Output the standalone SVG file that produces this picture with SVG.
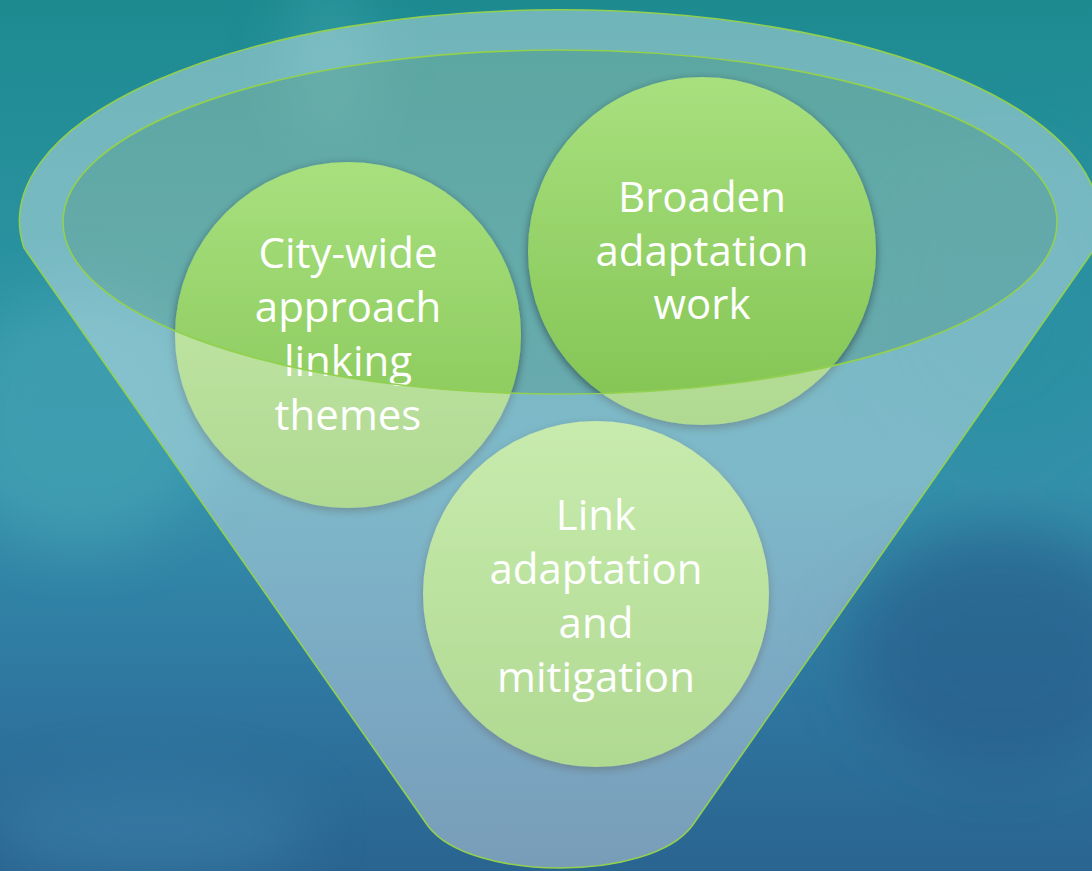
<svg xmlns="http://www.w3.org/2000/svg" width="1092" height="871" viewBox="0 0 1092 871">
  <defs>
    <linearGradient id="bg" x1="0" y1="0" x2="0" y2="1">
      <stop offset="0" stop-color="#1d8a90"/>
      <stop offset="0.3" stop-color="#2a92a0"/>
      <stop offset="0.55" stop-color="#3490aa"/>
      <stop offset="0.8" stop-color="#2e76a0"/>
      <stop offset="1" stop-color="#2a6490"/>
    </linearGradient>
    <linearGradient id="circ" x1="0" y1="0" x2="0" y2="1">
      <stop offset="0" stop-color="#a8e07e"/>
      <stop offset="1" stop-color="#82c352"/>
    </linearGradient>
    <filter id="blur" x="-50%" y="-50%" width="200%" height="200%">
      <feGaussianBlur stdDeviation="30"/>
    </filter>
    <filter id="shadow" x="-20%" y="-20%" width="140%" height="140%">
      <feDropShadow dx="0" dy="3" stdDeviation="4" flood-color="#000" flood-opacity="0.45"/>
    </filter>
    <style>
      .circle { fill: url(#circ); filter: url(#shadow); }
      .label { font-family: "Open Sans", "Noto Sans", sans-serif; font-size: 42px; fill: #ffffff; text-anchor: middle; }
      .edge { fill: none; stroke: #92d050; stroke-width: 1.6; }
    </style>
  </defs>

  <!-- background -->
  <rect x="0" y="0" width="1092" height="871" fill="url(#bg)"/>
  <g filter="url(#blur)" opacity="0.6">
    <ellipse cx="80" cy="420" rx="130" ry="130" fill="#46a6b6"/>
    <ellipse cx="330" cy="60" rx="40" ry="90" fill="#3aa0a8"/>
    <ellipse cx="1000" cy="650" rx="150" ry="120" fill="#255a86"/>
    <ellipse cx="150" cy="830" rx="160" ry="50" fill="#3a80aa"/>
    <ellipse cx="1000" cy="300" rx="120" ry="150" fill="#2b8fa2"/>
  </g>

  <!-- inner ellipse tint (below circles) -->
  <ellipse id="funnel-mouth" cx="560" cy="222" rx="497" ry="172" fill="#e0e0c0" fill-opacity="0.32"/>

  <!-- nodes: circles -->
  <g id="node-citywide">
    <circle class="circle" cx="348" cy="335" r="173"/>
  </g>
  <g id="node-broaden">
    <circle class="circle" cx="702" cy="251" r="174"/>
  </g>
  <g id="node-link">
    <circle class="circle" cx="596" cy="594" r="173"/>
  </g>

  <!-- funnel body with mouth hole, overlays circles -->
  <g id="funnel">
    <path fill="#ffffff" fill-opacity="0.37" fill-rule="evenodd"
      d="M 24 248 A 540 211 0 1 1 1095 248 L 692 826 C 650 882 470 882 428 826 Z
         M 63 222 A 497 172 0 1 0 1057 222 A 497 172 0 1 0 63 222 Z"/>
    <path class="edge" d="M 24 248 A 540 211 0 1 1 1095 248 L 692 826 C 650 882 470 882 428 826 Z"/>
  </g>

  <!-- labels -->
  <g id="labels-citywide">
    <text class="label" x="348" y="268">City-wide</text>
    <text class="label" x="348" y="322">approach</text>
    <text class="label" x="348" y="376">linking</text>
    <text class="label" x="348" y="430">themes</text>
  </g>
  <g id="labels-broaden">
    <text class="label" x="702" y="212">Broaden</text>
    <text class="label" x="702" y="266">adaptation</text>
    <text class="label" x="702" y="319">work</text>
  </g>
  <g id="labels-link">
    <text class="label" x="596" y="530">Link</text>
    <text class="label" x="596" y="584">adaptation</text>
    <text class="label" x="596" y="638">and</text>
    <text class="label" x="596" y="692">mitigation</text>
  </g>

  <!-- mouth outline on top -->
  <ellipse class="edge" cx="560" cy="222" rx="497" ry="172" stroke-width="1.3"/>

  <g id="connectors"></g>
</svg>
